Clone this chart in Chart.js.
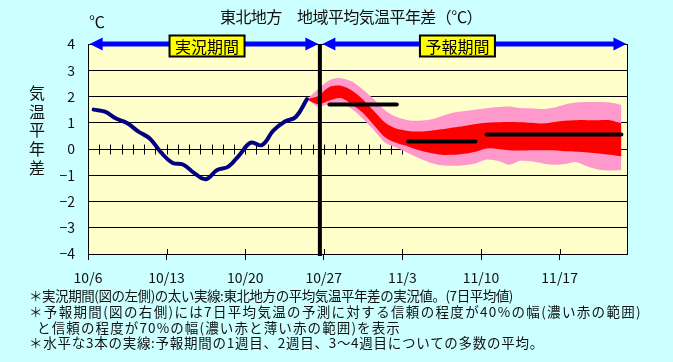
<!DOCTYPE html>
<html><head><meta charset="utf-8">
<script src="https://cdn.jsdelivr.net/npm/chart.js@4.4.0/dist/chart.umd.min.js"></script>
<style>
html,body{margin:0;padding:0;background:#CCFFFF;}
#wrap{position:relative;width:673px;height:362px;overflow:hidden;background:#CCFFFF;}
canvas{position:absolute;left:0;top:0;}
.t{position:absolute;font-family:"Noto Sans CJK JP",sans-serif;color:#111;white-space:nowrap;line-height:1;}
</style></head><body>
<div id="wrap">
<canvas id="c" width="673" height="362"></canvas>
<div class="t fit" data-w="262" style="left:220px;top:8px;font-size:16px;">東北地方　地域平均気温平年差（℃）</div>
<div class="t" style="left:89px;top:13px;font-size:16px;">℃</div>
<div class="t" style="left:29px;top:83px;font-size:16px;line-height:18.7px;width:17px;white-space:normal;">気<br>温<br>平<br>年<br>差</div>
<div class="t fit" data-w="484" style="left:29px;top:289px;font-size:13.5px;">＊実況期間(図の左側)の太い実線:東北地方の平均気温平年差の実況値。(7日平均値)</div>
<div class="t fit" data-w="613" style="left:29px;top:305px;font-size:13.5px;">＊予報期間(図の右側)には7日平均気温の予測に対する信頼の程度が40%の幅(濃い赤の範囲)</div>
<div class="t fit" data-w="364" style="left:37px;top:321px;font-size:13.5px;">と信頼の程度が70%の幅(濃い赤と薄い赤の範囲)を表示</div>
<div class="t fit" data-w="515" style="left:29px;top:336px;font-size:13.5px;">＊水平な3本の実線:予報期間の1週目、2週目、3～4週目についての多数の平均。</div>
</div>
<script>
// ---- data ----
const tickDays   = [0, 7, 14, 21, 28, 35, 42];
const tickLabels = ['10/6', '10/13', '10/20', '10/27', '11/3', '11/10', '11/17'];
const yTicks     = [-4, -3, -2, -1, 0, 1, 2, 3, 4];

const obsStartDay = 0;   // 10/6
const observed = [1.50, 1.42, 1.16, 0.98, 0.66, 0.40, -0.13, -0.52, -0.60, -0.93,
                  -1.15, -0.80, -0.67, -0.22, 0.24, 0.15, 0.70, 1.04, 1.22, 1.90];

const fcStartDay = 19;   // 10/25
const outerHigh = [1.90, 2.29, 2.62, 2.70, 2.57, 2.26, 1.88, 1.46, 1.22, 1.10, 1.08, 1.12, 1.25, 1.38, 1.45,
                   1.50, 1.55, 1.60, 1.62, 1.56, 1.55, 1.52, 1.58, 1.70, 1.77, 1.79, 1.79, 1.77, 1.68];
const innerHigh = [1.90, 2.02, 2.36, 2.41, 2.23, 1.88, 1.43, 0.99, 0.77, 0.69, 0.67, 0.70, 0.75, 0.82, 0.88,
                   0.95, 1.00, 1.02, 1.03, 1.02, 1.00, 0.97, 1.03, 1.08, 1.10, 1.10, 1.10, 1.10, 0.98];
const innerLow  = [1.90, 1.71, 1.85, 1.94, 1.70, 1.37, 0.89, 0.43, 0.23, 0.10, -0.05, -0.15, -0.22, -0.22, -0.18,
                   -0.10, 0.02, 0.00, -0.05, -0.06, -0.05, -0.05, -0.05, -0.09, -0.10, -0.13, -0.17, -0.22, -0.28];
const outerLow  = [1.90, 1.62, 1.71, 1.75, 1.52, 1.14, 0.70, 0.23, 0.05, -0.15, -0.35, -0.52, -0.62, -0.64, -0.62,
                   -0.55, -0.40, -0.45, -0.60, -0.45, -0.47, -0.55, -0.60, -0.57, -0.50, -0.67, -0.79, -0.82, -0.80];

const weekStart = [21, 28, 35];
const weekEnd   = [27, 34, 47];
const weekMean  = [1.70, 0.29, 0.55];

const periodSplit   = 20.65;
const periodLabels  = ['実況期間', '予報期間'];
const periodLabelAt = [10.6, 32.9];

// ---- text fitting ----
document.querySelectorAll('.fit').forEach(el => {
  const target = +el.dataset.w;
  const n = [...el.textContent].length;
  const w = el.getBoundingClientRect().width;
  el.style.letterSpacing = ((target - w) / n).toFixed(3) + 'px';
});

// ---- build ----
const pts = (start, arr) => arr.map((v, i) => ({ x: start + i + 0.5, y: v }));
const FONT = '"Noto Sans CJK JP", sans-serif';

const datasets = [
  { data: pts(obsStartDay, observed), borderColor: '#000080', borderWidth: 4, tension: 0.4,
    borderCapStyle: 'round', borderJoinStyle: 'round', fill: false },
];
for (let k = 0; k < weekMean.length; k++) {
  datasets.push({ data: [{ x: weekStart[k] + 0.5, y: weekMean[k] }, { x: weekEnd[k] + 0.5, y: weekMean[k] }],
    borderColor: '#000000', borderWidth: 4, borderCapStyle: 'round', fill: false });
}
datasets.push({ data: pts(fcStartDay, innerHigh), borderColor: 'rgba(0,0,0,0)', borderWidth: 0,
  backgroundColor: '#FF0000', fill: 5, tension: 0.3 });
datasets.push({ data: pts(fcStartDay, innerLow), borderColor: 'rgba(0,0,0,0)', borderWidth: 0, fill: false, tension: 0.3 });
datasets.push({ data: pts(fcStartDay, outerHigh), borderColor: 'rgba(0,0,0,0)', borderWidth: 0,
  backgroundColor: '#FF99CC', fill: 7, tension: 0.3 });
datasets.push({ data: pts(fcStartDay, outerLow), borderColor: 'rgba(0,0,0,0)', borderWidth: 0, fill: false, tension: 0.3 });

function arrow(ctx, x1, x2, yy) {
  ctx.fillStyle = '#0000FF';
  ctx.fillRect(x1 + 8, yy - 2.5, x2 - x1 - 16, 5);
  ctx.beginPath(); ctx.moveTo(x1, yy); ctx.lineTo(x1 + 13, yy - 6.5); ctx.lineTo(x1 + 13, yy + 6.5); ctx.closePath(); ctx.fill();
  ctx.beginPath(); ctx.moveTo(x2, yy); ctx.lineTo(x2 - 13, yy - 6.5); ctx.lineTo(x2 - 13, yy + 6.5); ctx.closePath(); ctx.fill();
}

const deco = {
  id: 'deco',
  beforeDraw(chart) {
    const { ctx, chartArea: a } = chart;
    ctx.save(); ctx.fillStyle = '#FFFFCC';
    ctx.fillRect(a.left, a.top, a.right - a.left, a.bottom - a.top);
    ctx.restore();
  },
  beforeDatasetsDraw(chart) {
    const { ctx, chartArea: a, scales: { x, y } } = chart;
    const y0 = Math.round(y.getPixelForValue(0)) + 0.5;
    ctx.save(); ctx.strokeStyle = '#000'; ctx.lineWidth = 1; ctx.beginPath();
    for (let d = 1; d < 48; d++) {
      const px = Math.round(x.getPixelForValue(d)) + 0.5;
      ctx.moveTo(px, y0 - 5); ctx.lineTo(px, y0 + 5);
    }
    for (const d of tickDays) {
      if (d === 0) continue;
      const px = Math.round(x.getPixelForValue(d)) + 0.5;
      ctx.moveTo(px, a.bottom - 5); ctx.lineTo(px, a.bottom);
    }
    ctx.moveTo(Math.round(a.right) + 0.5, a.top); ctx.lineTo(Math.round(a.right) + 0.5, a.bottom);
    ctx.stroke(); ctx.restore();
  },
  afterDatasetsDraw(chart) {
    const { ctx, chartArea: a, scales: { x, y } } = chart;
    ctx.save();
    const sx = x.getPixelForValue(periodSplit);
    ctx.fillStyle = '#000';
    ctx.fillRect(sx - 2, a.top, 4, a.bottom - a.top + 2);
    const yy = y.getPixelForValue(4);
    arrow(ctx, x.getPixelForValue(0.15), sx - 1.5, yy);
    arrow(ctx, sx + 2.5, x.getPixelForValue(47.95), yy);
    ctx.font = '16px ' + FONT;
    ctx.textAlign = 'center'; ctx.textBaseline = 'middle';
    for (let k = 0; k < periodLabels.length; k++) {
      const cx = x.getPixelForValue(periodLabelAt[k]);
      const w = 75, h = 21;
      ctx.fillStyle = '#FFFF00';
      ctx.fillRect(cx - w / 2, yy + 2 - h / 2, w, h);
      ctx.lineWidth = 2; ctx.strokeStyle = '#000';
      ctx.strokeRect(cx - w / 2, yy + 2 - h / 2, w, h);
      ctx.fillStyle = '#000';
      ctx.fillText(periodLabels[k], cx, yy + 3);
    }
    ctx.restore();
  }
};

new Chart(document.getElementById('c'), {
  type: 'line',
  data: { datasets },
  options: {
    responsive: false, animation: false, devicePixelRatio: 1,
    layout: { padding: { left: 0, top: 44, right: 46, bottom: 0 } },
    elements: { point: { radius: 0 } },
    plugins: { legend: { display: false }, tooltip: { enabled: false }, filler: { propagate: false } },
    scales: {
      x: {
        type: 'linear', min: 0, max: 48,
        afterBuildTicks: s => { s.ticks = tickDays.map(v => ({ value: v })); },
        afterFit: s => { s.height = 108; },
        ticks: { callback: v => tickLabels[tickDays.indexOf(v)] ?? '', font: { size: 14, family: FONT },
                 color: '#111', padding: 9, maxRotation: 0, autoSkip: false },
        grid: { drawOnChartArea: false, tickLength: 6, color: '#000' },
        border: { color: '#000' }
      },
      y: {
        min: -4, max: 4,
        afterBuildTicks: s => { s.ticks = yTicks.map(v => ({ value: v })); },
        afterFit: s => { s.width = 88; },
        ticks: { callback: v => v < 0 ? '\u2212' + Math.abs(v) : String(v), font: { size: 14, family: FONT },
                 color: '#111', padding: 13 },
        grid: { color: '#000', drawTicks: false, lineWidth: 1 },
        border: { color: '#000' }
      }
    }
  },
  plugins: [deco]
});
</script>
</body></html>
